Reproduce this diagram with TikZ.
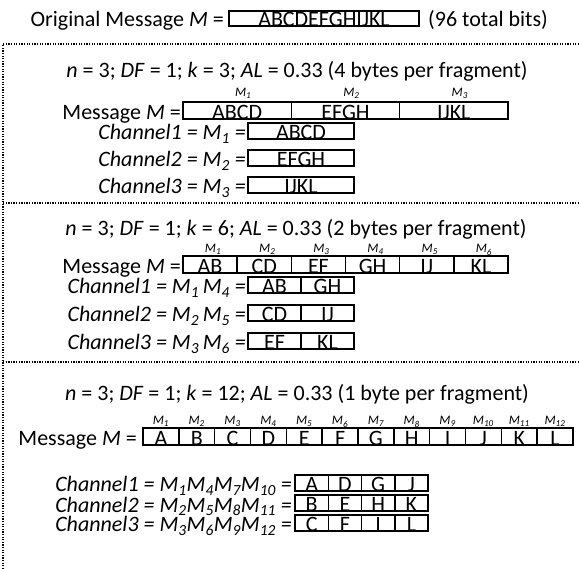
\documentclass[tikz,border=0pt]{standalone}
\usepackage{fontspec}
\setmainfont{Carlito}
\newcommand{\mainsize}{\fontsize{22}{22}\selectfont}
\newcommand{\smallsize}{\fontsize{13}{13}\selectfont}
\newcommand{\Mi}[1]{\textit{M\textsubscript{#1}}}
\begin{document}
\begin{tikzpicture}[x=1pt,y=-1pt,
  txt/.style={inner sep=0pt, font=\mainsize},
  lbl/.style={txt, anchor=base east},
  hdr/.style={txt, anchor=base},
  mlab/.style={inner sep=0pt, anchor=base, font=\smallsize\itshape},
  cell/.style={draw, line width=1.5pt, inner xsep=0pt, inner ysep=0pt,
    text height=17pt, text depth=0pt, anchor=south, font=\mainsize},
  ccell/.style={cell, text height=16pt},
  frame/.style={line width=1.6pt, dash pattern=on 1.3pt off 1.3pt}]
\useasboundingbox (0,0) rectangle (579,569);

% top line
\node[lbl] (orig) at (224,27) {Original Message \textit{M} =};
\node[cell, minimum width=190pt, text height=15pt] (origbox) at (324,27) {ABCDEFGHIJKL};
\node[txt, anchor=base west] (bits) at (428,27) {(96 total bits)};

% frame
\coordinate (fr) at (579,44);
\coordinate (fc) at (3,44);
\coordinate (fb) at (3,569);
\draw[frame] (fr) -- (fc) -- (fb);
\coordinate (s1l) at (3,203); \coordinate (s1r) at (579,203);
\coordinate (s2l) at (3,362); \coordinate (s2r) at (579,362);
\draw[frame] (s1l) -- (s1r);
\draw[frame] (s2l) -- (s2r);

% section 1
\node[hdr] (h1) at (297,78) {\textit{n} = 3; \textit{DF} = 1; \textit{k} = 3; \textit{AL} = 0.33 (4 bytes per fragment)};
\node[lbl] (msg1) at (181,120) {Message \textit{M} =};
\foreach \i/\t in {1/ABCD,2/EFGH,3/IJKL}{
  \node[cell, minimum width=108.33pt] (a\i) at ({183+108.33*(\i-0.5)},120) {\t};
  \node[mlab] (am\i) at ({183+108.33*(\i-0.5)+6},97) {M\textsubscript{\i}};
}
\node[lbl] (ch11) at (246,140) {\textit{Channel1 = \Mi{1} =}};
\node[ccell, minimum width=106pt] (ab1) at (301,140) {ABCD};
\node[lbl] (ch12) at (246,167) {\textit{Channel2 = \Mi{2} =}};
\node[ccell, minimum width=106pt] (ab2) at (301,167) {EFGH};
\node[lbl] (ch13) at (246,194) {\textit{Channel3 = \Mi{3} =}};
\node[ccell, minimum width=106pt] (ab3) at (301,194) {IJKL};

% section 2
\node[hdr] (h2) at (296,236) {\textit{n} = 3; \textit{DF} = 1; \textit{k} = 6; \textit{AL} = 0.33 (2 bytes per fragment)};
\node[lbl] (msg2) at (181,274) {Message \textit{M} =};
\foreach \i/\t in {1/AB,2/CD,3/EF,4/GH,5/IJ,6/KL}{
  \node[cell, minimum width=54.17pt] (b\i) at ({183+54.17*(\i-0.5)},274) {\t};
  \node[mlab] (bm\i) at ({183+54.17*(\i-0.5)+3},253) {M\textsubscript{\i}};
}
\node[lbl] (ch21) at (246,294) {\textit{Channel1 = \Mi{1}\,\Mi{4} =}};
\node[ccell, minimum width=53pt] (bb11) at (274.5,294) {AB};
\node[ccell, minimum width=53pt] (bb12) at (327.5,294) {GH};
\node[lbl] (ch22) at (246,322) {\textit{Channel2 = \Mi{2}\,\Mi{5} =}};
\node[ccell, minimum width=53pt] (bb21) at (274.5,322) {CD};
\node[ccell, minimum width=53pt] (bb22) at (327.5,322) {IJ};
\node[lbl] (ch23) at (246,350) {\textit{Channel3 = \Mi{3}\,\Mi{6} =}};
\node[ccell, minimum width=53pt] (bb31) at (274.5,350) {EF};
\node[ccell, minimum width=53pt] (bb32) at (327.5,350) {KL};

% section 3
\node[hdr] (h3) at (297,401) {\textit{n} = 3; \textit{DF} = 1; \textit{k} = 12; \textit{AL} = 0.33 (1 byte per fragment)};
\node[lbl] (msg3) at (137,446) {Message \textit{M} =};
\foreach \i/\t in {1/A,2/B,3/C,4/D,5/E,6/F,7/G,8/H,9/I,10/J,11/K,12/L}{
  \node[cell, minimum width=35.83pt] (c\i) at ({143+35.83*(\i-0.5)},446) {\t};
  \node[mlab] (cm\i) at ({143+35.83*(\i-0.5)},425) {M\textsubscript{\i}};
}
\node[lbl] (ch31) at (292,492) {\textit{Channel1 = \Mi{1}\Mi{4}\Mi{7}\Mi{10} =}};
\node[lbl] (ch32) at (292,512) {\textit{Channel2 = \Mi{2}\Mi{5}\Mi{8}\Mi{11} =}};
\node[lbl] (ch33) at (292,532) {\textit{Channel3 = \Mi{3}\Mi{6}\Mi{9}\Mi{12} =}};
\foreach \r/\y/\a/\b/\c/\d in {1/492/A/D/G/J,2/512/B/E/H/K,3/532/C/F/I/L}{
  \node[ccell, minimum width=33.25pt] (d\r1) at ({295+33.25*0.5},\y) {\a};
  \node[ccell, minimum width=33.25pt] (d\r2) at ({295+33.25*1.5},\y) {\b};
  \node[ccell, minimum width=33.25pt] (d\r3) at ({295+33.25*2.5},\y) {\c};
  \node[ccell, minimum width=33.25pt] (d\r4) at ({295+33.25*3.5},\y) {\d};
}
\end{tikzpicture}
\end{document}
